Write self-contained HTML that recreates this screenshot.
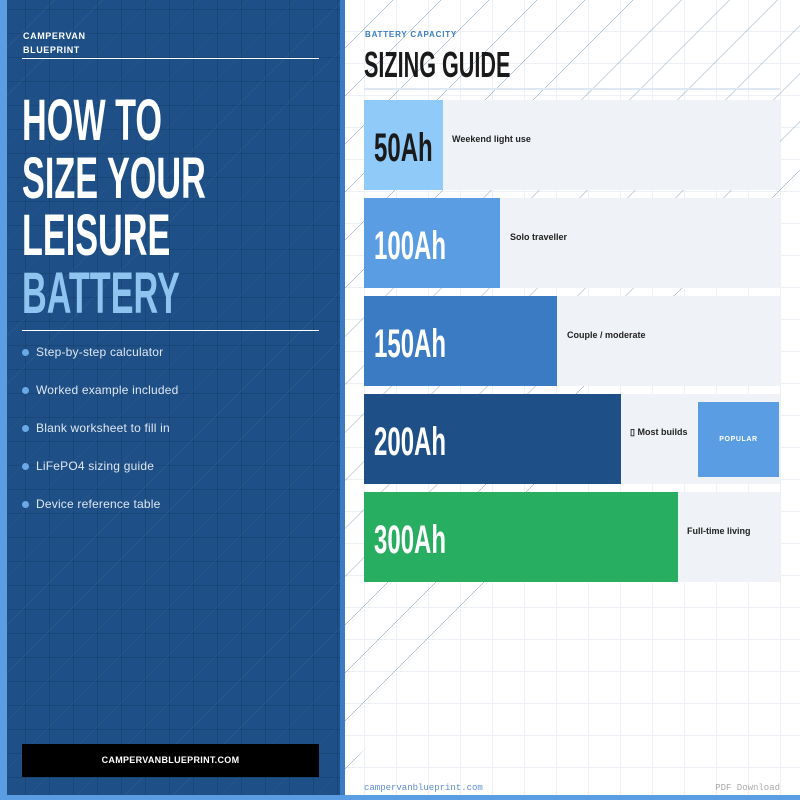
<!DOCTYPE html>
<html><head><meta charset="utf-8"><style>
*{margin:0;padding:0;box-sizing:border-box}
body{width:800px;height:800px;position:relative;overflow:hidden;background:#fff;font-family:"Liberation Sans",sans-serif}
.abs{position:absolute}
.cond{display:inline-block;transform-origin:left top;white-space:nowrap;font-weight:bold}
#left{left:7px;top:0;width:333px;height:795px;background:#1e4f86;
background-image:linear-gradient(90deg,rgba(10,40,80,.22) 1px,transparent 1px),linear-gradient(0deg,rgba(10,40,80,.22) 1px,transparent 1px),repeating-linear-gradient(135deg,transparent 0 33.5px,rgba(255,255,255,.07) 33.5px 34px);
background-size:24px 24px,24px 24px,auto;background-position:18px 0,0 10px,0 0}
#grid{left:345px;top:0;width:455px;height:795px;
background-image:linear-gradient(90deg,#edf1f6 1px,transparent 1px),linear-gradient(0deg,#edf1f6 1px,transparent 1px);
background-size:32px 32px;background-position:19px 0,0 0}
#diag{left:345px;top:0;width:455px;height:795px;
background:repeating-linear-gradient(135deg,transparent 0 33.6px,#1e4f86 33.6px 34px);
clip-path:polygon(0 0,455px 0,455px 180px,275px 395px,160px 600px,0 770px);opacity:.7}
.row{position:absolute;left:364px;width:416px;height:90px;background:#eff2f7}
.bar{position:absolute;left:0;top:0;height:90px}
.ah{position:absolute;left:10px;top:26px;font-size:40px;color:#fff;transform:scaleX(.6)}
.desc{position:absolute;top:34px;font-size:9px;font-weight:bold;color:#222}
.li{position:absolute;left:36px;font-size:12px;color:#dfe8f2;letter-spacing:.2px}
.dot{position:absolute;left:22px;width:7px;height:7px;border-radius:50%;background:#6aa8e8}
</style></head><body>
<div class="abs" style="left:0;top:0;width:7px;height:800px;background:#5b9de2"></div>
<div class="abs" id="left"></div>
<div class="abs" style="left:340px;top:0;width:5px;height:800px;background:#3a7bc4"></div>
<div class="abs" id="grid"></div>
<div class="abs" id="diag"></div>
<div class="abs" style="left:0;top:795px;width:800px;height:5px;background:#5b9de2"></div>

<div class="abs" style="left:23px;top:29px;font-size:9px;font-weight:bold;color:#fff;letter-spacing:.6px;line-height:14px">CAMPERVAN<br>BLUEPRINT</div>
<div class="abs" style="left:22px;top:58px;width:297px;height:1px;background:#fff"></div>
<div class="abs" style="left:22px;top:92px;color:#fff;font-size:58px;line-height:57.5px">
<span class="cond" style="transform:scaleX(.59)">HOW TO<br>SIZE YOUR<br>LEISURE<br><span style="color:#90c4f0">BATTERY</span></span></div>
<div class="abs" style="left:22px;top:330px;width:297px;height:1px;background:#fff"></div>
<div class="dot" style="top:349px"></div><div class="li" style="top:345px">Step-by-step calculator</div>
<div class="dot" style="top:387px"></div><div class="li" style="top:383px">Worked example included</div>
<div class="dot" style="top:425px"></div><div class="li" style="top:421px">Blank worksheet to fill in</div>
<div class="dot" style="top:463px"></div><div class="li" style="top:459px">LiFePO4 sizing guide</div>
<div class="dot" style="top:501px"></div><div class="li" style="top:497px">Device reference table</div>
<div class="abs" style="left:22px;top:744px;width:297px;height:33px;background:#000;color:#fff;font-size:9px;font-weight:bold;text-align:center;line-height:33px;letter-spacing:.3px">CAMPERVANBLUEPRINT.COM</div>

<div class="abs" style="left:365px;top:30px;font-size:8px;font-weight:bold;color:#3a7bc4;letter-spacing:.8px">BATTERY CAPACITY</div>
<div class="abs" style="left:364px;top:44px;font-size:36px;color:#1a1a1a"><span class="cond" style="transform:scaleX(.6)">SIZING GUIDE</span></div>
<div class="abs" style="left:364px;top:88px;width:416px;height:2px;background:#dde8f3"></div>

<div class="row" style="top:100px"><div class="bar" style="width:79px;background:#90caf9"></div><div class="ah cond" style="color:#1a1a1a">50Ah</div><div class="desc" style="left:88px">Weekend light use</div></div>
<div class="row" style="top:198px"><div class="bar" style="width:136px;background:#5b9de2"></div><div class="ah cond">100Ah</div><div class="desc" style="left:146px">Solo traveller</div></div>
<div class="row" style="top:296px"><div class="bar" style="width:193px;background:#3a7bc4"></div><div class="ah cond">150Ah</div><div class="desc" style="left:203px">Couple / moderate</div></div>
<div class="row" style="top:394px"><div class="bar" style="width:257px;background:#1e4f86"></div><div class="ah cond">200Ah</div><div class="desc" style="left:266px;top:33px">▯ Most builds</div>
<div class="abs" style="left:334px;top:8px;width:81px;height:75px;background:#5b9de2;color:#fff;font-size:7px;font-weight:bold;text-align:center;line-height:75px;letter-spacing:.6px">POPULAR</div></div>
<div class="row" style="top:492px"><div class="bar" style="width:314px;background:#27ae60"></div><div class="ah cond">300Ah</div><div class="desc" style="left:323px">Full-time living</div></div>

<div class="abs" style="left:364px;top:783px;font-family:'Liberation Mono',monospace;font-size:9px;color:#5b8fd0">campervanblueprint.com</div>
<div class="abs" style="right:20px;top:783px;font-family:'Liberation Mono',monospace;font-size:9px;color:#aaa">PDF Download</div>
</body></html>
